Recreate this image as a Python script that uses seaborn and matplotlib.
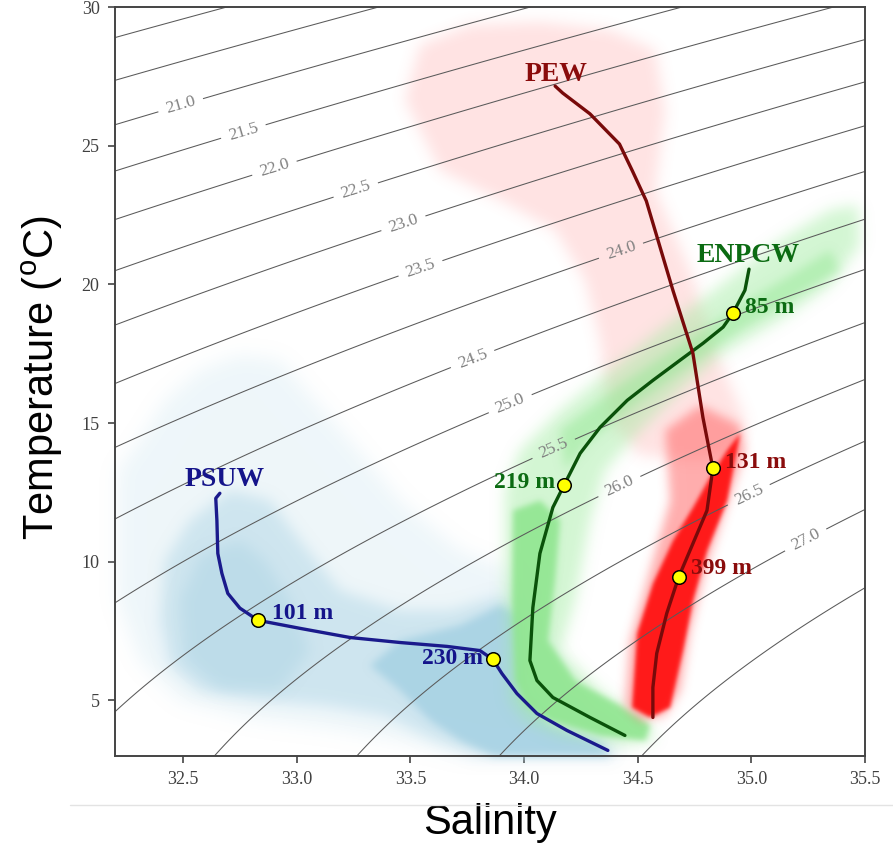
import numpy as np
import pandas as pd
import matplotlib
matplotlib.use("Agg")
import matplotlib.pyplot as plt
import seaborn as sns
from matplotlib.lines import Line2D

# ---------------- mean T-S profiles of the three water masses ----------------
psuw_sal = [32.662, 32.644, 32.649, 32.653, 32.671, 32.697, 32.750, 32.830, 33.015,
            33.235, 33.455, 33.661, 33.806, 33.863, 33.903, 33.969, 34.057, 34.189, 34.369]
psuw_temp = [12.47, 12.29, 11.49, 10.30, 9.58, 8.86, 8.33, 7.89, 7.60,
             7.27, 7.09, 6.95, 6.80, 6.48, 5.97, 5.25, 4.53, 3.92, 3.20]

enpcw_sal = [34.990, 34.972, 34.919, 34.876, 34.788, 34.687, 34.567, 34.454, 34.335,
             34.247, 34.176, 34.127, 34.070, 34.039, 34.026, 34.057, 34.127, 34.290, 34.444]
enpcw_temp = [20.55, 19.79, 18.96, 18.46, 17.88, 17.27, 16.54, 15.82, 14.85,
              13.91, 12.76, 11.96, 10.30, 8.35, 6.44, 5.72, 5.11, 4.39, 3.74]

pew_sal = [34.137, 34.170, 34.290, 34.420, 34.477, 34.538, 34.655, 34.743, 34.787, 34.818,
           34.831, 34.805, 34.680, 34.628, 34.584, 34.567, 34.567]
pew_temp = [27.15, 26.90, 26.15, 25.06, 24.09, 23.01, 19.79, 17.52, 15.21, 13.91,
            13.37, 11.85, 9.44, 8.14, 6.70, 5.47, 4.39]

# depth markers on each profile
psuw_mark_sal, psuw_mark_temp, psuw_mark_lab = [32.830, 33.863], [7.89, 6.48], ["101 m", "230 m"]
enpcw_mark_sal, enpcw_mark_temp, enpcw_mark_lab = [34.919, 34.176], [18.96, 12.76], ["85 m", "219 m"]
pew_mark_sal, pew_mark_temp, pew_mark_lab = [34.831, 34.680], [13.37, 9.44], ["131 m", "399 m"]

# ---------------- outlines of the observation clouds ----------------
psuw_halo_sal = [32.214, 32.311, 32.421, 32.575, 32.751, 32.927, 33.059, 33.235, 33.455, 33.719,
                 33.939, 34.093, 34.247, 34.423, 34.445, 33.785, 33.455, 33.147, 32.795, 32.487,
                 32.311, 32.214]
psuw_halo_temp = [13.30, 14.38, 15.82, 16.91, 17.45, 17.27, 16.00, 14.38, 12.21, 10.41,
                  9.69, 7.16, 5.00, 3.38, 2.90, 2.90, 3.56, 3.99, 4.35, 5.00,
                  6.44, 8.61]
psuw_mid_sal = [32.399, 32.421, 32.531, 32.707, 32.883, 33.015, 33.191, 33.455, 33.675, 33.895,
                33.983, 34.005, 34.159, 34.379, 34.401, 33.829, 33.609, 33.389, 33.125, 32.861,
                32.575, 32.443]
psuw_mid_temp = [7.89, 10.05, 11.49, 12.58, 12.21, 10.77, 8.97, 8.25, 8.25, 8.79,
                 8.25, 5.36, 4.10, 3.38, 2.90, 2.90, 3.56, 4.46, 4.82, 5.00,
                 5.36, 6.26]
psuw_core_sal = [33.455, 33.719, 33.895, 33.974, 33.992, 34.115, 34.335, 34.388, 33.895,
                 33.719, 33.587, 33.455, 33.323]
psuw_core_temp = [7.16, 7.71, 8.43, 8.07, 5.00, 4.10, 3.49, 2.90, 2.90,
                  3.56, 4.28, 5.36, 6.26]
psuw_west_sal = [32.487, 32.575, 32.751, 32.861, 32.971, 33.059, 32.927, 32.663, 32.509]
psuw_west_temp = [8.61, 10.23, 10.77, 10.05, 8.61, 6.80, 5.36, 5.36, 6.44]

enpcw_halo_sal = [33.917, 33.983, 34.159, 34.379, 34.599, 34.863, 35.127, 35.347, 35.470, 35.478,
                  35.347, 35.127, 34.863, 34.687, 34.511, 34.357, 34.291, 34.225, 34.159, 34.335,
                  34.555, 34.577, 34.423, 34.159, 34.005, 33.939, 33.917]
enpcw_halo_temp = [12.58, 14.02, 15.46, 16.91, 18.35, 19.97, 21.59, 22.68, 22.86, 21.41,
                   19.97, 18.71, 17.45, 16.18, 14.74, 13.30, 11.49, 8.61, 6.80, 5.36,
                   4.10, 3.56, 3.38, 3.74, 4.28, 5.00, 8.61]
enpcw_band_sal = [34.159, 34.423, 34.687, 34.951, 35.171, 35.347, 35.391, 35.171, 34.951, 34.731,
                  34.511, 34.291, 34.181]
enpcw_band_temp = [14.74, 16.36, 17.81, 19.25, 20.33, 21.23, 20.51, 19.43, 18.35, 17.09,
                   15.82, 14.38, 13.30]
enpcw_core_sal = [33.952, 34.071, 34.159, 34.137, 34.106, 34.225, 34.423, 34.555, 34.533, 34.335,
                  34.115, 34.005, 33.961, 33.948]
enpcw_core_temp = [11.85, 12.21, 11.49, 9.33, 7.16, 5.72, 4.82, 4.10, 3.56, 3.74,
                   4.28, 4.82, 5.72, 8.61]

pew_halo_sal = [33.477, 33.543, 33.763, 34.071, 34.379, 34.577, 34.621, 34.577, 34.731, 34.841,
                34.973, 34.929, 34.775, 34.511, 34.379, 34.335, 34.269, 34.137, 33.895, 33.631]
pew_halo_temp = [26.65, 28.63, 29.35, 29.46, 29.17, 28.45, 26.28, 23.40, 20.51, 17.63,
                 15.10, 14.02, 13.66, 13.84, 15.10, 17.99, 20.15, 21.96, 23.04, 24.12]
pew_mid_sal = [34.621, 34.775, 34.951, 34.973, 34.885, 34.797, 34.731, 34.687, 34.621, 34.511,
               34.445, 34.467, 34.555, 34.643]
pew_mid_temp = [14.74, 15.64, 14.92, 14.02, 11.85, 9.69, 7.53, 5.36, 4.46, 4.28,
                4.82, 7.16, 9.69, 12.21]
pew_core_sal = [34.951, 34.894, 34.806, 34.744, 34.700, 34.643, 34.555, 34.476, 34.498, 34.568,
                34.656, 34.744, 34.819, 34.894]
pew_core_temp = [14.63, 12.21, 10.41, 8.61, 6.80, 4.75, 4.39, 4.75, 7.42, 9.22,
                 10.77, 11.96, 13.05, 14.02]

# ---------------- density (sigma-theta) isolines ----------------
sigma_plain = [20.0, 20.5, 27.5]
sigma_labelled = [21.0, 21.5, 22.0, 22.5, 23.0, 23.5, 24.0, 24.5, 25.0, 25.5, 26.0, 26.5, 27.0]
label_sal = [32.487, 32.761, 32.902, 33.260, 33.468, 33.543, 34.423, 33.776, 33.930,
             34.124, 34.423, 34.986, 35.236]
label_temp = [26.54, 25.64, 24.19, 23.40, 22.24, 20.62, 21.31, 17.26, 15.90,
              14.20, 12.65, 12.47, 10.84]

x_ticks = [32.5, 33.0, 33.5, 34.0, 34.5, 35.0, 35.5]
y_ticks = [5, 10, 15, 20, 25, 30]


def sigma_t(S, T):
    """UNESCO EOS-80 density at the sea surface, minus 1000 kg m-3."""
    rho_w = (999.842594 + 6.793952e-2 * T - 9.095290e-3 * T**2 + 1.001685e-4 * T**3
             - 1.120083e-6 * T**4 + 6.536332e-9 * T**5)
    a = 0.824493 - 4.0899e-3 * T + 7.6438e-5 * T**2 - 8.2467e-7 * T**3 + 5.3875e-9 * T**4
    b = -5.72466e-3 + 1.0227e-4 * T - 1.6546e-6 * T**2
    return rho_w + a * S + b * S**1.5 + 4.8314e-4 * S**2 - 1000.0


class SoftEdge:
    """agg_filter that feathers the outline of a uniformly coloured patch."""

    def __init__(self, sigma):
        self.r = int(3 * sigma) + 1
        x = np.arange(-self.r, self.r + 1)
        k = np.exp(-0.5 * (x / sigma) ** 2)
        self.k = k / k.sum()

    def __call__(self, im, dpi):
        r = self.r
        p = np.pad(im, ((r, r), (r, r), (0, 0)))
        a = p[..., 3]
        mask = a > 0.5 * a.max()
        rgb = p[..., :3][mask].mean(axis=0) if mask.any() else np.zeros(3)
        for axis in (0, 1):
            acc = np.zeros_like(a)
            for i, w in enumerate(self.k):
                acc += w * np.roll(a, i - r, axis=axis)
            a = acc
        out = np.empty_like(p)
        out[..., :3] = rgb
        out[..., 3] = a
        return out, -r, -r


sns.set_theme(style="ticks")
plt.rcParams["font.family"] = ["Liberation Serif", "DejaVu Serif"]
plt.rcParams["mathtext.fontset"] = "custom"
plt.rcParams["mathtext.rm"] = "Liberation Sans"

fig = plt.figure(figsize=(8.93, 8.44), dpi=100)
ax = fig.add_axes([0.1286, 0.1043, 0.8400, 0.8874])

# clouds: (salinity, temperature, colour, alpha, feather in px)
cloud_layers = [
    (psuw_halo_sal, psuw_halo_temp, "#b9dcea", 0.24, 9),
    (psuw_mid_sal, psuw_mid_temp, "#a9d3e4", 0.45, 7),
    (psuw_west_sal, psuw_west_temp, "#9fcde0", 0.35, 7),
    (psuw_core_sal, psuw_core_temp, "#a6d1e3", 0.85, 4),
    (pew_halo_sal, pew_halo_temp, "#ff8080", 0.22, 7),
    (enpcw_halo_sal, enpcw_halo_temp, "#9eec9e", 0.45, 7),
    (enpcw_band_sal, enpcw_band_temp, "#8fe68f", 0.45, 5),
    (enpcw_core_sal, enpcw_core_temp, "#8ee58e", 0.88, 3),
    (pew_mid_sal, pew_mid_temp, "#ff4a4a", 0.45, 5),
    (pew_core_sal, pew_core_temp, "#ff0d0d", 0.92, 2),
]
for s, t, c, a, f in cloud_layers:
    patch, = ax.fill(s, t, color=c, alpha=a, lw=0, zorder=1)
    patch.set_agg_filter(SoftEdge(f))

# isopycnals
sal_grid = np.linspace(32.2, 35.5, 400)
temp_grid = np.linspace(2.5, 30.5, 400)
SS, TT = np.meshgrid(sal_grid, temp_grid)
sig = sigma_t(SS, TT)
ax.contour(SS, TT, sig, levels=sigma_plain, colors="#5a5a5a", linewidths=0.75, zorder=2)
cs = ax.contour(SS, TT, sig, levels=sigma_labelled, colors="#5a5a5a", linewidths=0.75,
                zorder=2)
labels = ax.clabel(cs, fmt="%.1f", fontsize=12.5, colors="#808080", inline=True,
                   inline_spacing=8, manual=list(zip(label_sal, label_temp)))

# mean profiles
profiles = [
    (psuw_sal, psuw_temp, "#1a1a8c"),
    (enpcw_sal, enpcw_temp, "#0a520a"),
    (pew_sal, pew_temp, "#780a0a"),
]
for s, t, c in profiles:
    df = pd.DataFrame({"Salinity": s, "Temperature": t})
    sns.lineplot(data=df, x="Salinity", y="Temperature", sort=False, estimator=None,
                 color=c, lw=2.4, ax=ax, zorder=3)

marks = pd.DataFrame({
    "Salinity": psuw_mark_sal + enpcw_mark_sal + pew_mark_sal,
    "Temperature": psuw_mark_temp + enpcw_mark_temp + pew_mark_temp,
})
sns.scatterplot(data=marks, x="Salinity", y="Temperature", s=95, color="#ffff00",
                edgecolor="black", linewidth=1.1, ax=ax, zorder=4)

navy, green, maroon = "#14148a", "#0b6b12", "#8a0c0c"
txt = dict(fontweight="bold", zorder=5)
ax.text(psuw_sal[0] + 0.02, psuw_temp[0] + 0.05, "PSUW", color=navy, fontsize=20,
        ha="center", va="bottom", **txt)
ax.text(enpcw_sal[0] - 0.005, enpcw_temp[0] + 0.05, "ENPCW", color=green, fontsize=20,
        ha="center", va="bottom", **txt)
ax.text(pew_sal[0] + 0.005, pew_temp[0] - 0.05, "PEW", color=maroon, fontsize=20,
        ha="center", va="bottom", **txt)

ax.text(psuw_mark_sal[0] + 0.062, psuw_mark_temp[0] + 0.25, psuw_mark_lab[0], color=navy,
        fontsize=17, ha="left", va="center", **txt)
ax.text(psuw_mark_sal[1] - 0.044, psuw_mark_temp[1] + 0.05, psuw_mark_lab[1], color=navy,
        fontsize=17, ha="right", va="center", **txt)
ax.text(enpcw_mark_sal[0] + 0.053, enpcw_mark_temp[0] + 0.2, enpcw_mark_lab[0], color=green,
        fontsize=17, ha="left", va="center", **txt)
ax.text(enpcw_mark_sal[1] - 0.04, enpcw_mark_temp[1] + 0.1, enpcw_mark_lab[1], color=green,
        fontsize=17, ha="right", va="center", **txt)
ax.text(pew_mark_sal[0] + 0.053, pew_mark_temp[0] + 0.2, pew_mark_lab[0], color=maroon,
        fontsize=17, ha="left", va="center", **txt)
ax.text(pew_mark_sal[1] + 0.053, pew_mark_temp[1] + 0.32, pew_mark_lab[1], color=maroon,
        fontsize=17, ha="left", va="center", **txt)

# axes
ax.set_xlim(32.2, 35.5)
ax.set_ylim(3, 30)
ax.set_xticks(x_ticks)
ax.set_xticklabels([f"{v:.1f}" for v in x_ticks])
ax.set_yticks(y_ticks)
ax.set_yticklabels([str(v) for v in y_ticks])
ax.tick_params(direction="out", length=5, width=1.2, color="#444444",
               labelsize=13, labelcolor="#404040", pad=6)
for sp in ax.spines.values():
    sp.set_visible(True)
    sp.set_color("#444444")
    sp.set_linewidth(1.4)
ax.grid(False)
ax.set_facecolor("white")

ax.set_xlabel("Salinity", family="Liberation Sans", fontsize=30, color="black")
ax.set_ylabel(r"Temperature ($\mathrm{^{o}}$C)", family="Liberation Sans", fontsize=30,
              color="black")
ax.xaxis.set_label_coords(0.5, -0.063)
ax.yaxis.set_label_coords(-0.066, 0.505)

fig.add_artist(Line2D([0.078, 1.0], [0.046, 0.046], transform=fig.transFigure,
                      color="#e3e3e3", lw=1.0))

fig.savefig("out.png", dpi=100, facecolor="white")
